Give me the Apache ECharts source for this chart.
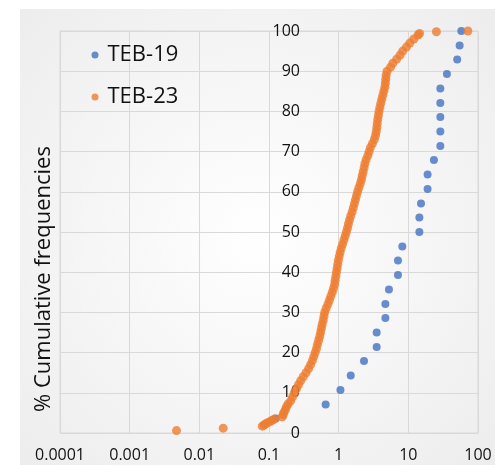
<!DOCTYPE html>
<html>
<head>
<meta charset="utf-8">
<script src="https://cdn.jsdelivr.net/npm/echarts@6/dist/echarts.min.js"></script>
<style>
  html, body { margin: 0; padding: 0; background: #ffffff; }
  #chart { width: 495px; height: 465px; }
</style>
</head>
<body>
<div id="chart"></div>
<script>
// Tick labels for the logarithmic grain-size axis
const xTickLabels = ['0.0001', '0.001', '0.01', '0.1', '1', '10', '100'];
const xTickValues = [0.0001, 0.001, 0.01, 0.1, 1, 10, 100];

// TEB-19: size vs. cumulative percentage
const teb19X = [0.125, 0.65, 1.06, 1.49, 2.31, 3.51, 3.51, 4.68, 4.68, 5.27, 7.1, 7.1, 8.2,
  14.4, 14.4, 15.2, 18.9, 18.9, 23.3, 28.8, 28.8, 28.8, 28.8, 28.8, 35.8, 50.3, 54.5, 57.6];
const teb19Y = [3.6, 7.1, 10.7, 14.3, 17.9, 21.4, 25.0, 28.6, 32.1, 35.7, 39.3, 42.9, 46.4,
  50.0, 53.6, 57.1, 60.7, 64.3, 67.9, 71.4, 75.0, 78.6, 82.1, 85.7, 89.3, 92.9, 96.4, 100];

// TEB-23: size vs. cumulative percentage
const teb23X = [0.0047, 0.022, 0.080, 0.085, 0.090, 0.097, 0.105, 0.112, 0.120, 0.155,
  0.160, 0.165, 0.172, 0.178, 0.188, 0.205, 0.218, 0.232, 0.248, 0.265,
  0.285, 0.31, 0.34, 0.37, 0.395, 0.42, 0.44, 0.46, 0.48, 0.495,
  0.515, 0.535, 0.55, 0.565, 0.58, 0.60, 0.615, 0.63, 0.66, 0.70,
  0.735, 0.77, 0.81, 0.845, 0.875, 0.89, 0.91, 0.93, 0.95, 0.97,
  0.99, 1.02, 1.05, 1.09, 1.14, 1.19, 1.24, 1.29, 1.34, 1.38,
  1.43, 1.49, 1.56, 1.62, 1.68, 1.74, 1.80, 1.87, 1.95, 2.04,
  2.12, 2.18, 2.25, 2.32, 2.38, 2.48, 2.62, 2.74, 2.85, 3.05,
  3.25, 3.38, 3.47, 3.53, 3.58, 3.64, 3.72, 3.80, 3.90, 4.02,
  4.15, 4.30, 4.45, 4.60, 4.68, 4.74, 4.80, 4.95, 5.55, 6.0,
  6.8, 7.6, 8.3, 9.4, 10.5, 12.0, 13.8, 14.5, 25.3, 71.6];
const teb23Y = [0.6, 1.2, 1.7, 2.0, 2.3, 2.6, 2.9, 3.2, 3.5, 4.0,
  4.6, 5.2, 5.8, 6.5, 7.2, 8, 9, 10, 11, 12,
  13, 14, 15, 16, 17, 18, 19, 20, 21, 22,
  23, 24, 25, 26, 27, 28, 29, 30, 31, 32,
  33, 34, 35, 36, 37, 38, 39, 40, 41, 42,
  43, 44, 45, 46, 47, 48, 49, 50, 51, 52,
  53, 54, 55, 56, 57, 58, 59, 60, 61, 62,
  63, 64, 65, 66, 67, 68, 69, 70, 71, 72,
  73, 74, 75, 76, 77, 78, 79, 80, 81, 82,
  83, 84, 85, 86, 87, 88, 89, 90, 91, 92,
  93, 94, 95, 96, 97, 98, 99, 99.4, 99.8, 100];

const pairs = (xs, ys) => xs.map((x, i) => [x, ys[i]]);

const FONT = '"Open Sans", "Noto Sans", sans-serif';
const GRID = '#d9d9d9';
const INK = '#111111';

const chart = echarts.init(document.getElementById('chart'), null, { renderer: 'canvas' });

chart.setOption({
  animation: false,
  backgroundColor: '#ffffff',
  textStyle: { fontFamily: FONT },
  graphic: [
    {
      type: 'rect',
      z: -10,
      silent: true,
      shape: { x: 20, y: 9, width: 475, height: 456 },
      style: {
        fill: new echarts.graphic.RadialGradient(0.5, 0.5, 0.75, [
          { offset: 0, color: '#ffffff' },
          { offset: 1, color: '#ececec' }
        ])
      }
    },
    {
      type: 'text',
      x: 44,
      y: 279,
      rotation: Math.PI / 2,
      silent: true,
      style: {
        text: '% Cumulative frequencies',
        font: '22px ' + FONT,
        fill: INK,
        align: 'center',
        verticalAlign: 'middle'
      }
    }
  ],
  legend: {
    orient: 'vertical',
    left: 86.5,
    top: 39,
    itemWidth: 15,
    itemHeight: 7,
    itemGap: 20,
    icon: 'circle',
    selectedMode: false,
    textStyle: { fontSize: 22, lineHeight: 22, color: INK, fontFamily: FONT },
    data: ['TEB-19', 'TEB-23']
  },
  grid: {
    left: 60,
    right: 17,
    top: 31,
    bottom: 32,
    show: true,
    borderColor: GRID,
    borderWidth: 1,
    backgroundColor: 'transparent'
  },
  xAxis: {
    type: 'log',
    logBase: 10,
    min: 0.0001,
    max: 100,
    axisLine: { show: false },
    axisTick: { show: false },
    splitLine: { show: true, lineStyle: { color: GRID, width: 1 } },
    axisLabel: {
      fontSize: 16,
      color: INK,
      fontFamily: FONT,
      margin: 14,
      formatter: function (v) {
        let best = 0;
        xTickValues.forEach(function (t, i) {
          if (Math.abs(Math.log10(t) - Math.log10(v)) < Math.abs(Math.log10(xTickValues[best]) - Math.log10(v))) best = i;
        });
        return xTickLabels[best];
      }
    }
  },
  yAxis: {
    type: 'value',
    min: 0,
    max: 100,
    interval: 10,
    offset: -248,
    axisLine: { show: false },
    axisTick: { show: false },
    splitLine: { show: true, lineStyle: { color: GRID, width: 1 } },
    axisLabel: { fontSize: 16, color: INK, fontFamily: FONT, margin: 8 }
  },
  series: [
    {
      name: 'TEB-19',
      type: 'scatter',
      symbol: 'circle',
      symbolSize: 8,
      itemStyle: { color: '#4472C4' },
      data: pairs(teb19X, teb19Y)
    },
    {
      name: 'TEB-23',
      type: 'scatter',
      symbol: 'circle',
      symbolSize: 9,
      itemStyle: { color: '#ED7D31' },
      data: pairs(teb23X, teb23Y)
    }
  ]
});
</script>
</body>
</html>
